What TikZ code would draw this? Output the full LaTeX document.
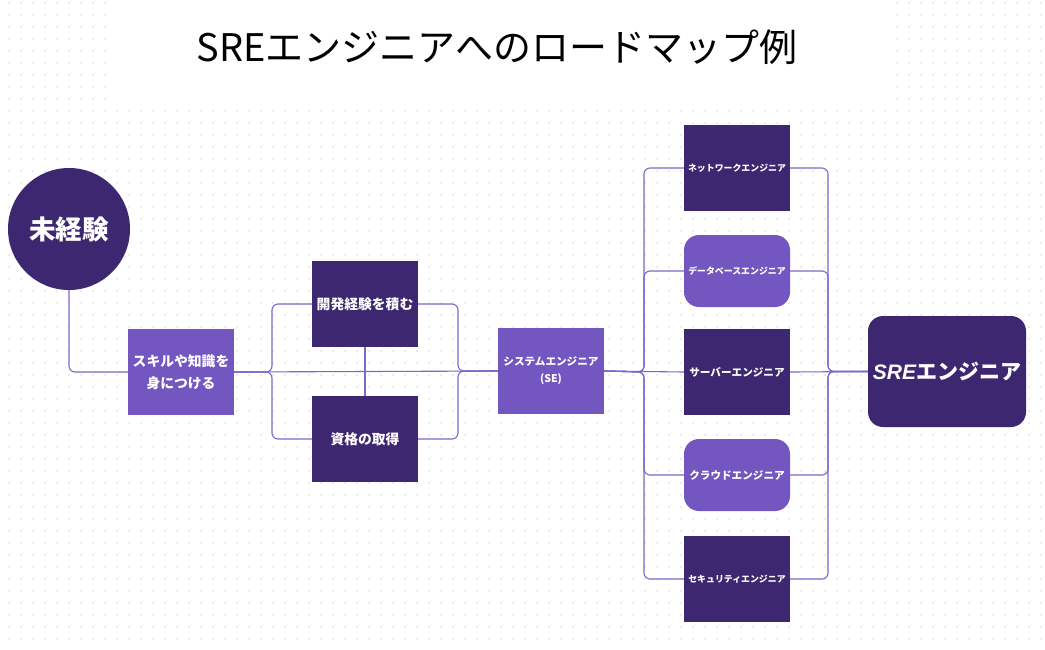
\documentclass[tikz,border=0pt]{standalone}
\usepackage{fontspec}
\setmainfont{Noto Sans CJK JP}
\newfontfamily\latinsans{Liberation Sans}
\definecolor{dk}{HTML}{3C2770}
\definecolor{lt}{HTML}{7356C0}
\definecolor{ln}{HTML}{7E66CC}
\definecolor{dotc}{HTML}{EBEBEB}
\begin{document}
\begin{tikzpicture}[x=1pt,y=-1pt,
  box/.style={draw=none, minimum width=106pt, minimum height=86pt, inner sep=0pt, text=white, align=center},
  darkbox/.style={box, fill=dk},
  lightbox/.style={box, fill=lt},
  roundlight/.style={box, fill=lt, rounded corners=15pt, minimum height=72pt},
  midfont/.style={font=\bfseries\fontsize{13.8}{22}\selectfont},
  smallfont/.style={font=\bfseries\fontsize{10.6}{17}\selectfont},
  tinyfont/.style={font=\bfseries\fontsize{8.9}{14}\selectfont},
  conn/.style={draw=ln, line width=1.1pt, rounded corners=6pt}
]
\useasboundingbox (0,0) rectangle (1045,649);
\fill[white] (0,0) rectangle (1045,649);
\foreach \i in {0,...,86}{\foreach \j in {0,...,53}{\fill[dotc] (8+12*\i, 2+12*\j) rectangle ++(2.2,2.2);}}
\fill[white] (110,0) rectangle (889,105);

\node[font=\fontsize{38}{44}\selectfont] (title) at (497,47) {SREエンジニアへのロードマップ例};

\node[circle, fill=dk, minimum size=122pt, inner sep=0pt, text=white, font=\bfseries\fontsize{26.5}{30}\selectfont] (start) at (69,229) {未経験};
\node[lightbox, midfont] (skill) at (181,372) {スキルや知識を\\身につける};
\node[darkbox, midfont] (dev) at (365,304) {開発経験を積む};
\node[darkbox, midfont] (cert) at (365,439) {資格の取得};
\node[lightbox, smallfont] (se) at (551,371) {システムエンジニア\\(SE)};

\node[darkbox, tinyfont] (net) at (737,168) {ネットワークエンジニア};
\node[roundlight, tinyfont] (db) at (737,271) {データベースエンジニア};
\node[darkbox, smallfont] (srv) at (737,372) {サーバーエンジニア};
\node[roundlight, smallfont] (cld) at (737,475) {クラウドエンジニア};
\node[darkbox, tinyfont] (sec) at (737,579) {セキュリティエンジニア};

\node[box, fill=dk, rounded corners=15pt, minimum width=158pt, minimum height=111pt, font=\bfseries\fontsize{21}{24}\selectfont] (sre) at (947,371.5) {{\latinsans\bfseries\itshape SRE}エンジニア};

\draw[conn] (start.south) |- (skill.west);
\draw[conn] (skill.east) -- (se.west);
\draw[conn] (dev.south) -- (cert.north);
\draw[conn] (skill.east) -- (272,372) |- (dev.west);
\draw[conn] (skill.east) -- (272,372) |- (cert.west);
\draw[conn] (dev.east) -- (458,304) |- (se.west);
\draw[conn] (cert.east) -- (458,439) |- (se.west);
\foreach \n/\y in {net/168,db/271,cld/475,sec/579}{
  \draw[conn] (se.east) -- (644,372) |- (\n.west);
  \draw[conn] (\n.east) -- (828,\y) |- (sre.west);
}
\draw[conn] (se.east) -- (srv.west);
\draw[conn] (srv.east) -- (sre.west);
\end{tikzpicture}
\end{document}
